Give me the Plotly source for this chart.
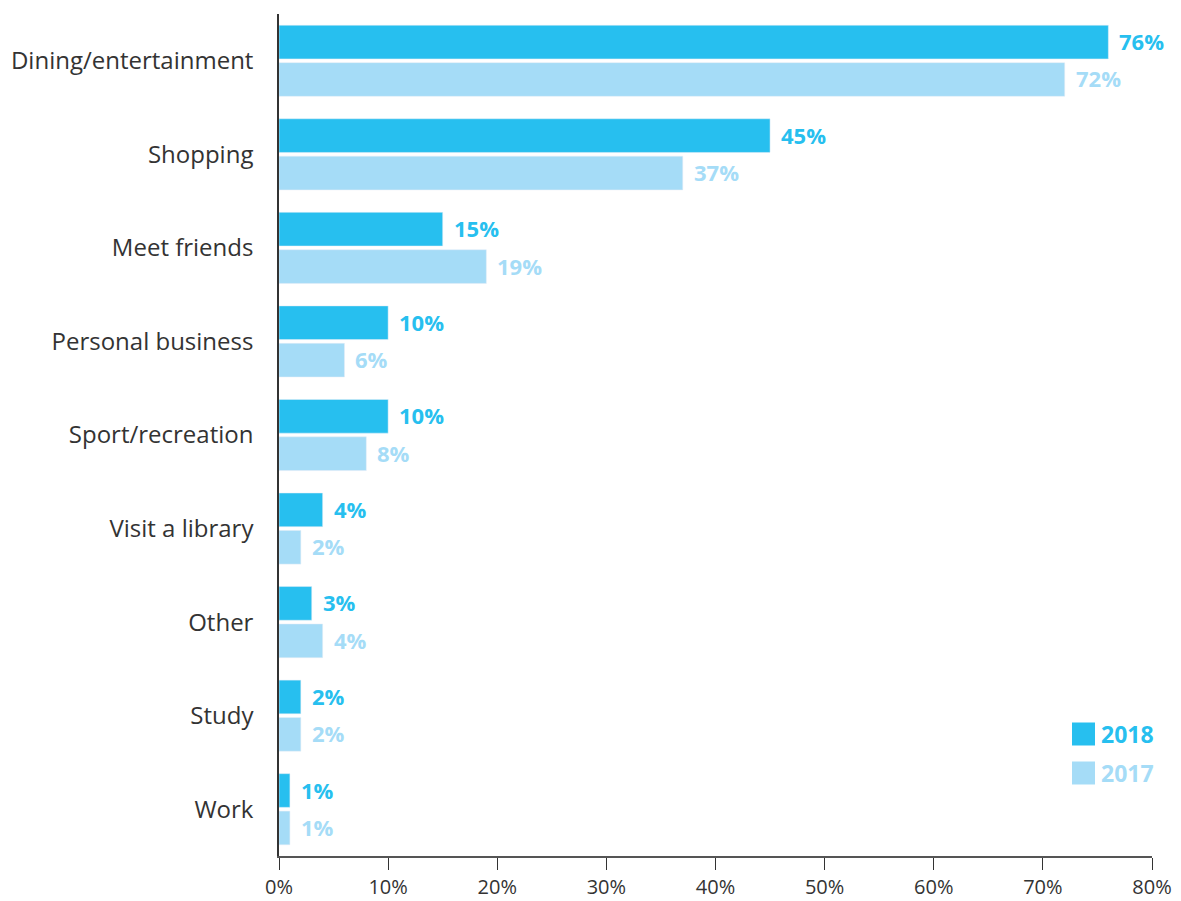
import plotly.graph_objects as go

categories = ["Dining/entertainment", "Shopping", "Meet friends", "Personal business",
              "Sport/recreation", "Visit a library", "Other", "Study", "Work"]
values_2018 = [76, 45, 15, 10, 10, 4, 3, 2, 1]
values_2017 = [72, 37, 19, 6, 8, 2, 4, 2, 1]
tick_vals = [0, 10, 20, 30, 40, 50, 60, 70, 80]
tick_text = [f"{v}%" for v in tick_vals]

C2018 = "#27BFEF"
C2017 = "#A5DCF7"
FONT = "Open Sans"

idx = list(range(len(categories)))

fig = go.Figure()
fig.add_trace(go.Bar(y=idx, x=values_2018, orientation="h", marker_color=C2018,
                     width=0.36, offset=-0.38, name="2018", showlegend=False))
fig.add_trace(go.Bar(y=idx, x=values_2017, orientation="h", marker_color=C2017,
                     width=0.36, offset=0.02, name="2017", showlegend=False))

annotations = []
for i, (a, b) in enumerate(zip(values_2018, values_2017)):
    annotations.append(dict(x=a, y=i - 0.2, xref="x", yref="y", text=f"<b>{a}%</b>",
                            showarrow=False, xanchor="left", yanchor="middle", xshift=9,
                            yshift=1, font=dict(family=FONT, size=22, color=C2018)))
    annotations.append(dict(x=b, y=i + 0.2, xref="x", yref="y", text=f"<b>{b}%</b>",
                            showarrow=False, xanchor="left", yanchor="middle", xshift=9,
                            yshift=1, font=dict(family=FONT, size=22, color=C2017)))

# custom legend: colour swatches with series-coloured labels
legend_items = [("2018", C2018, 734), ("2017", C2017, 773)]
shapes = []
for label, col, yc in legend_items:
    shapes.append(dict(type="rect", xref="paper", yref="paper",
                       x0=(1072 - 279) / 873, x1=(1095 - 279) / 873,
                       y0=(856 - (yc + 11.5)) / 842, y1=(856 - (yc - 11.5)) / 842,
                       fillcolor=col, line=dict(width=0)))
    annotations.append(dict(xref="paper", yref="paper", x=(1099 - 279) / 873,
                            y=(856 - yc) / 842, text=f"<b>{label}</b>", showarrow=False,
                            xanchor="left", yanchor="middle",
                            font=dict(family=FONT, size=23, color=col)))

fig.update_layout(
    width=1181, height=901,
    margin=dict(l=279, r=29, t=14, b=45),
    paper_bgcolor="white", plot_bgcolor="white",
    barmode="overlay",
    annotations=annotations, shapes=shapes,
    showlegend=False,
    font=dict(family=FONT, color="#333333"),
)
fig.update_xaxes(range=[0, 80], tickvals=tick_vals, ticktext=tick_text, automargin=False,
                 showgrid=False, zeroline=False, showline=True, linecolor="#555555",
                 linewidth=1.5, ticks="outside", ticklen=12, tickwidth=1.3,
                 tickcolor="#333333", tickfont=dict(size=20, color="#333333"))
fig.update_yaxes(range=[8.5, -0.5], tickvals=idx, ticktext=categories, automargin=False,
                 showgrid=False, zeroline=False, showline=True, linecolor="#333333",
                 linewidth=1.5, ticks="outside", ticklen=19, tickcolor="rgba(0,0,0,0)",
                 tickfont=dict(size=24, color="#333333"))

fig.write_html("out.html")
